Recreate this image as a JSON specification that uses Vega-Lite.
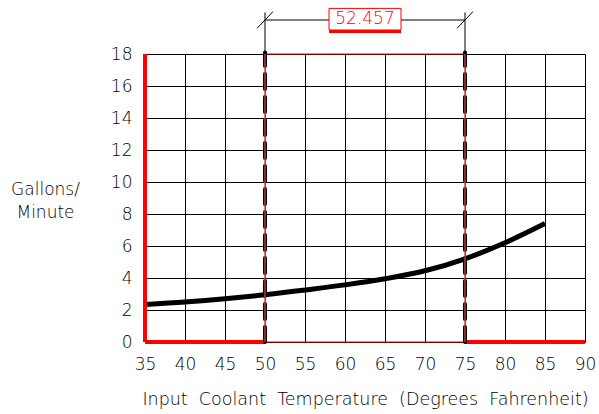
{
  "$schema": "https://vega.github.io/schema/vega-lite/v6.json",
  "width": 440,
  "height": 288,
  "autosize": "none",
  "padding": {"left": 145, "top": 54, "right": 14, "bottom": 72},
  "background": "white",
  "config": {
    "view": {"stroke": null},
    "font": "DejaVu Sans",
    "axis": {
      "grid": true,
      "gridColor": "#000000",
      "gridWidth": 1,
      "gridOpacity": 1,
      "domain": false,
      "ticks": false,
      "labelOverlap": false,
      "labelBound": false,
      "labelFlush": false,
      "labelFont": "DejaVu Sans",
      "labelFontSize": 17,
      "labelFontWeight": 200,
      "labelColor": "#000000",
      "titleFont": "DejaVu Sans",
      "titleFontSize": 17.5,
      "titleFontWeight": 200,
      "titleColor": "#000000"
    }
  },
  "encoding": {
    "x": {"field": "x", "type": "quantitative",
      "scale": {"domain": [35, 90], "nice": false, "zero": false},
      "axis": {"values": [35,40,45,50,55,60,65,70,75,80,85,90], "labelPadding": 14,
        "title": "Input\u00a0\u00a0Coolant\u00a0\u00a0Temperature\u00a0\u00a0(Degrees\u00a0\u00a0Fahrenheit)",
        "titleY": 57, "titleBaseline": "middle", "titleAnchor": "middle"}},
    "y": {"field": "y", "type": "quantitative",
      "scale": {"domain": [0, 18], "nice": false},
      "axis": {"values": [0,2,4,6,8,10,12,14,16,18], "labelPadding": 13,
        "title": ["Gallons/", "Minute"], "titleAngle": 0, "titleX": -100, "titleY": 127,
        "titleAlign": "center", "titleBaseline": "top", "titleLineHeight": 23, "titleFontSize": 17}}
  },
  "layer": [
    {
      "data": {"values": [
        {"x": 35, "y": 2.35}, {"x": 40, "y": 2.5}, {"x": 45, "y": 2.7},
        {"x": 50, "y": 2.95}, {"x": 55, "y": 3.25}, {"x": 60, "y": 3.57},
        {"x": 65, "y": 3.95}, {"x": 70, "y": 4.45}, {"x": 75, "y": 5.2},
        {"x": 80, "y": 6.2}, {"x": 85, "y": 7.4}
      ]},
      "mark": {"type": "line", "color": "#000000", "strokeWidth": 5, "interpolate": "monotone"}
    },
    {
      "data": {"values": [{"x": 50, "x2": 75, "y": 0, "y2": 18}]},
      "mark": {"type": "rect", "fill": null, "fillOpacity": 0, "stroke": "#ff0000", "strokeWidth": 1},
      "encoding": {"x2": {"field": "x2"}, "y2": {"field": "y2"}}
    },
    {
      "data": {"values": [
        {"x": 35, "x2": 35, "y": 0, "y2": 18},
        {"x": 35, "x2": 50, "y": 0, "y2": 0},
        {"x": 75, "x2": 90, "y": 0, "y2": 0}
      ]},
      "mark": {"type": "rule", "color": "#ff0000", "strokeWidth": 4, "strokeCap": "butt"},
      "encoding": {"x2": {"field": "x2"}, "y2": {"field": "y2"}}
    },
    {
      "data": {"values": [
        {"x": 50, "x2": 50, "y": 18, "y2": 20.6},
        {"x": 75, "x2": 75, "y": 18, "y2": 20.6},
        {"x": 50, "x2": 75, "y": 20.125, "y2": 20.125},
        {"x": 49, "x2": 51, "y": 19.6, "y2": 20.65},
        {"x": 74, "x2": 76, "y": 19.6, "y2": 20.65}
      ]},
      "mark": {"type": "rule", "color": "#000000", "strokeWidth": 1},
      "encoding": {"x2": {"field": "x2"}, "y2": {"field": "y2"}}
    },
    {
      "data": {"values": [
        {"x": 50, "x2": 50, "y": 0, "y2": 18.1},
        {"x": 75, "x2": 75, "y": 0, "y2": 18.1}
      ]},
      "mark": {"type": "rule", "color": "#000000", "strokeWidth": 4, "strokeDash": [15, 8], "strokeCap": "round"},
      "encoding": {"x2": {"field": "x2"}, "y2": {"field": "y2"}}
    },
    {
      "data": {"values": [
        {"x": 50, "x2": 50, "y": 0, "y2": 18},
        {"x": 75, "x2": 75, "y": 0, "y2": 18}
      ]},
      "mark": {"type": "rule", "color": "#ff6060", "strokeWidth": 1},
      "encoding": {"x2": {"field": "x2"}, "y2": {"field": "y2"}}
    },
    {
      "data": {"values": [{"x": 58, "x2": 67, "y": 19.5, "y2": 20.85}]},
      "mark": {"type": "rect", "fill": "#ffffff", "stroke": "#ff0000", "strokeWidth": 1},
      "encoding": {"x2": {"field": "x2"}, "y2": {"field": "y2"}}
    },
    {
      "data": {"values": [{"x": 58, "x2": 67, "y": 19.4, "y2": 19.4}]},
      "mark": {"type": "rule", "color": "#ff0000", "strokeWidth": 3},
      "encoding": {"x2": {"field": "x2"}, "y2": {"field": "y2"}}
    },
    {
      "data": {"values": [{"x": 62.5, "y": 20.17, "label": "52.457"}]},
      "mark": {"type": "text", "color": "#ff0000", "fontSize": 17, "fontWeight": 200, "font": "DejaVu Sans", "align": "center", "baseline": "middle"},
      "encoding": {"text": {"field": "label"}}
    }
  ]
}
